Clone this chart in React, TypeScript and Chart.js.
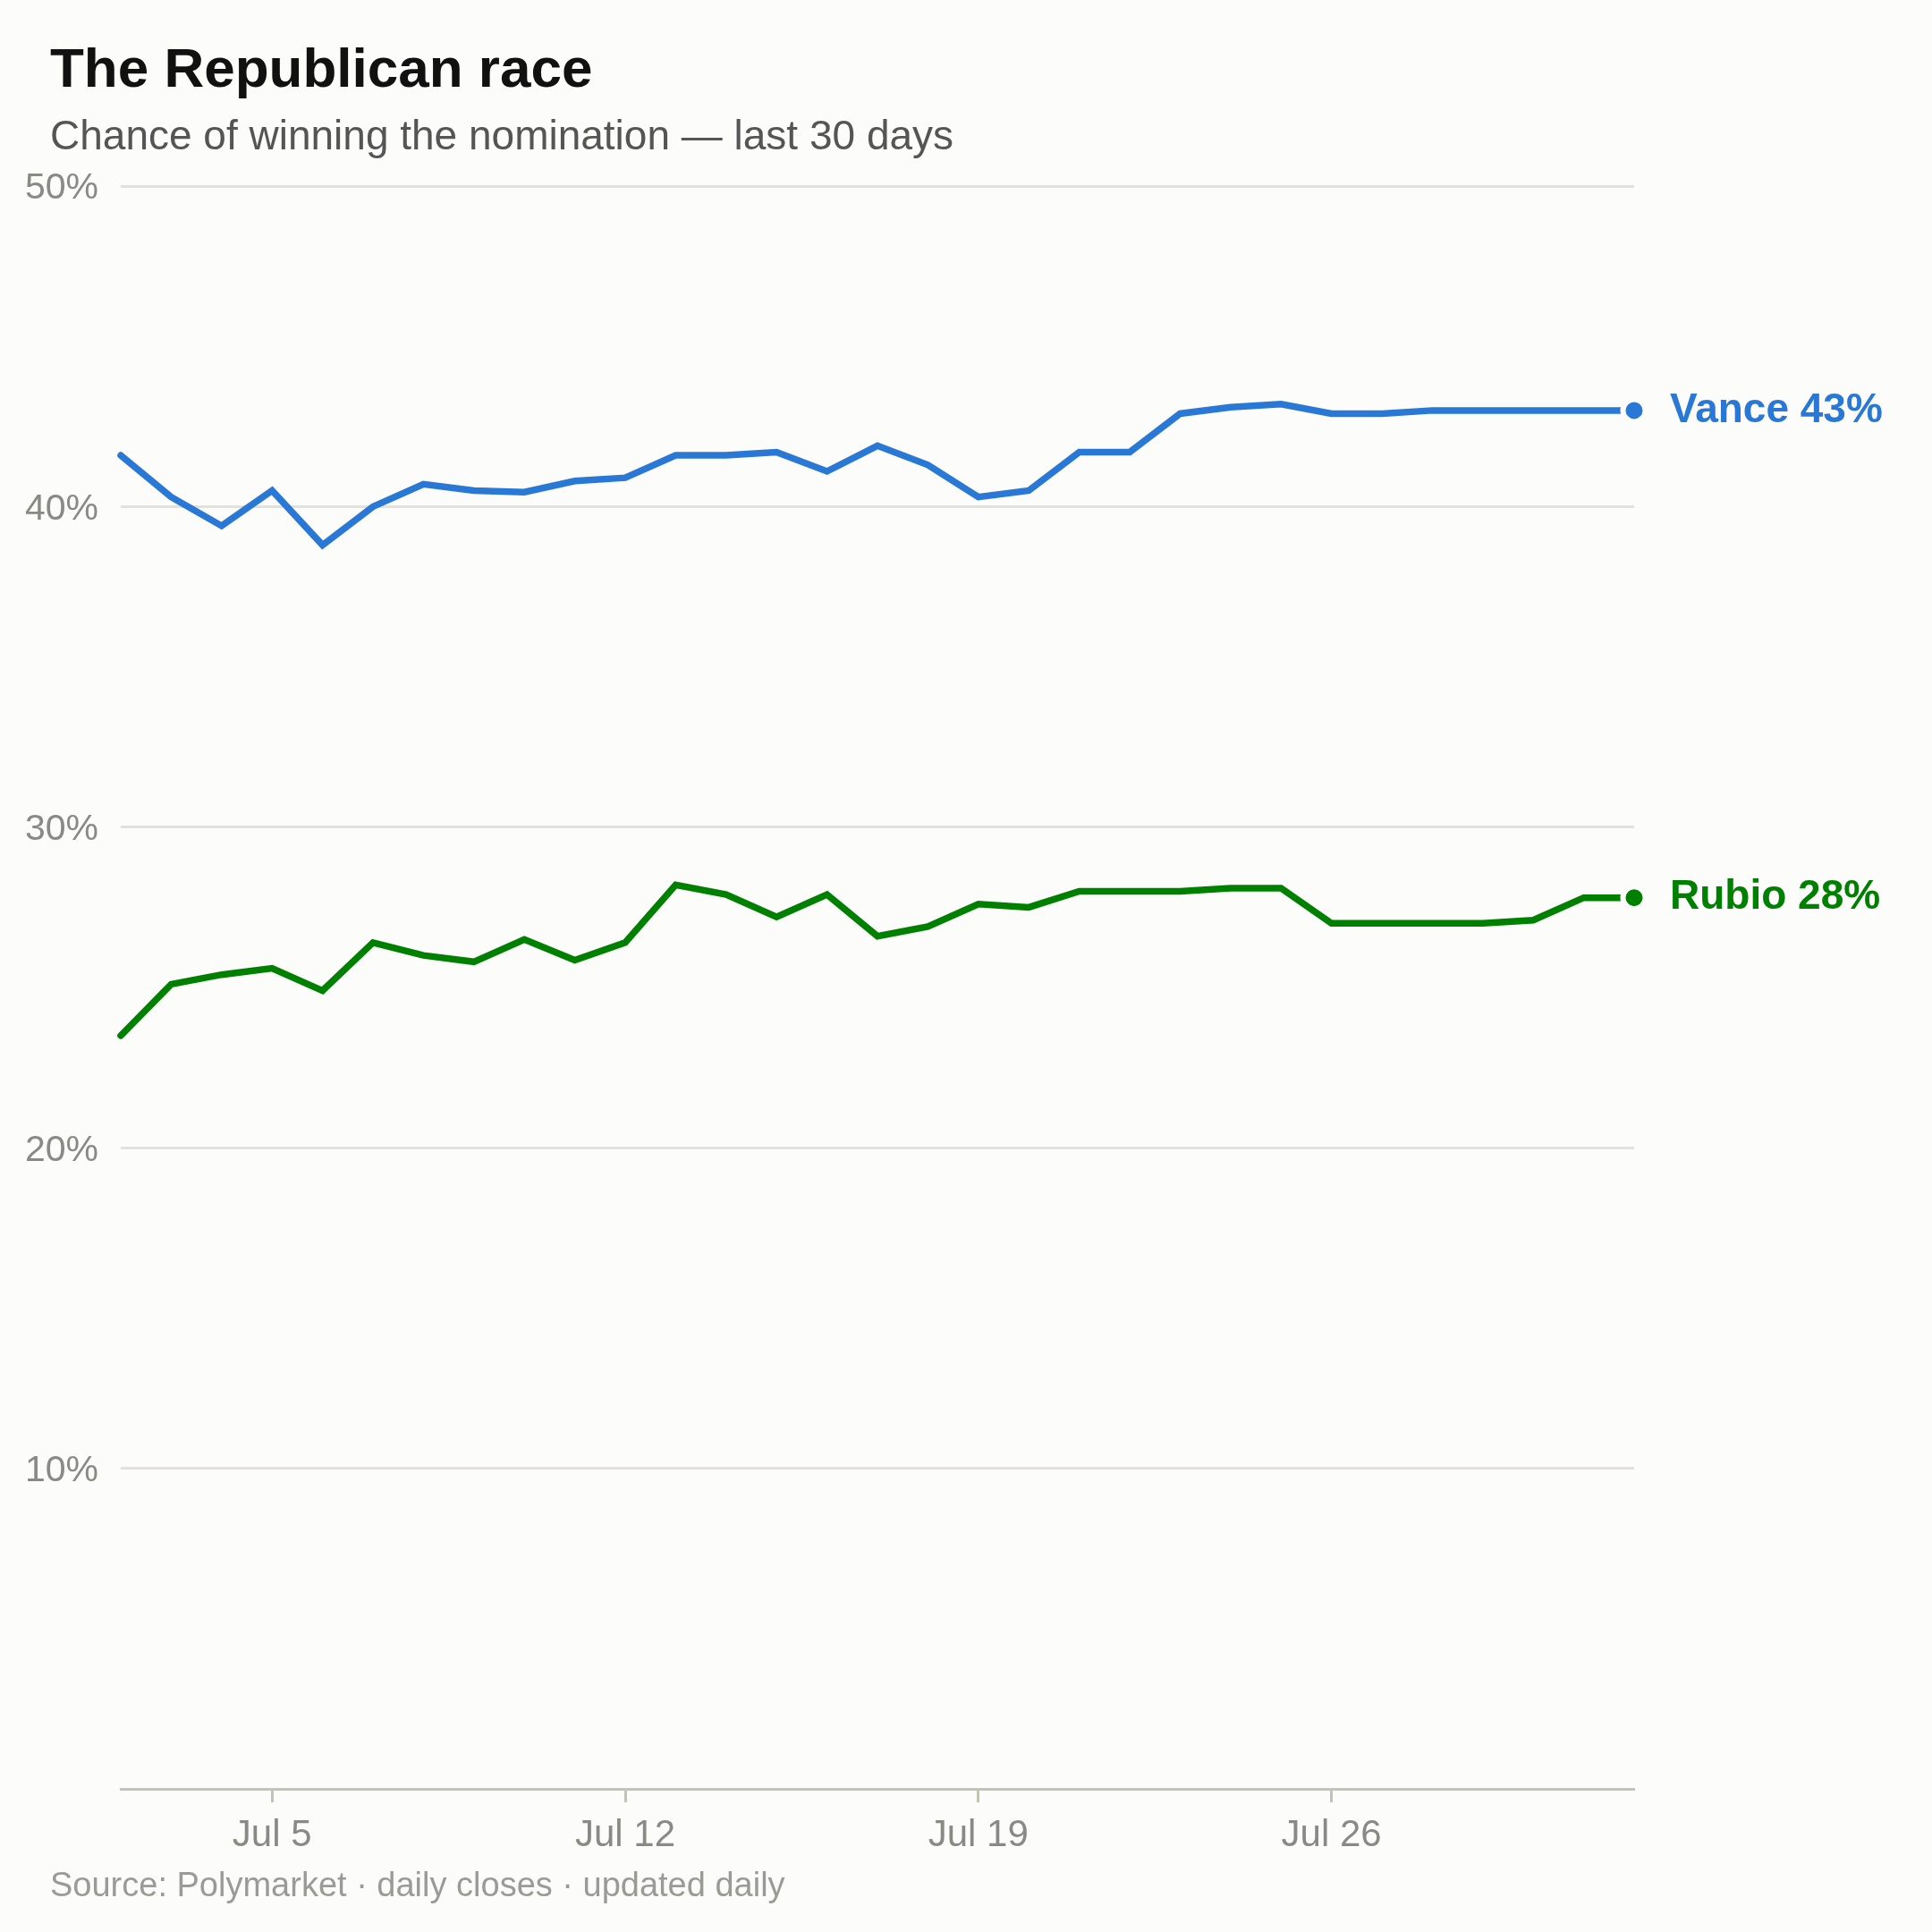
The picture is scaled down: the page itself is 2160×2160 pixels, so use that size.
import { Chart, registerables } from "chart.js";
import { useEffect, useRef } from "react";
Chart.register(...registerables);

const DATES = [
  "Jul 2", "Jul 3", "Jul 4", "Jul 5", "Jul 6", "Jul 7", "Jul 8", "Jul 9", "Jul 10", "Jul 11",
  "Jul 12", "Jul 13", "Jul 14", "Jul 15", "Jul 16", "Jul 17", "Jul 18", "Jul 19", "Jul 20", "Jul 21",
  "Jul 22", "Jul 23", "Jul 24", "Jul 25", "Jul 26", "Jul 27", "Jul 28", "Jul 29", "Jul 30", "Jul 31",
  "Aug 1",
];
const VANCE = [
  41.6, 40.3, 39.4, 40.5, 38.8, 40.0, 40.7, 40.5, 40.45, 40.8,
  40.9, 41.6, 41.6, 41.7, 41.1, 41.9, 41.3, 40.3, 40.5, 41.7,
  41.7, 42.9, 43.1, 43.2, 42.9, 42.9, 43.0, 43.0, 43.0, 43.0,
  43.0,
];
const RUBIO = [
  23.5, 25.1, 25.4, 25.6, 24.9, 26.4, 26.0, 25.8, 26.5, 25.85,
  26.4, 28.2, 27.9, 27.2, 27.9, 26.6, 26.9, 27.6, 27.5, 28.0,
  28.0, 28.0, 28.1, 28.1, 27.0, 27.0, 27.0, 27.0, 27.1, 27.8,
  27.8,
];
const SERIES_NAMES = ["Vance", "Rubio"];
const SERIES_COLORS = ["#2a78d6", "#008000"];
const X_TICK_LABELS = ["Jul 5", "Jul 12", "Jul 19", "Jul 26"];

const BG = "#fcfcfa";
const FONT = "'Liberation Sans', Arial, Helvetica, sans-serif";
const GRID = "#e2e1dc";
const AXIS = "#c4c3b8";
const TICK_TEXT = "#8a8a85";

const textPlugin = {
  id: "textPlugin",
  beforeDraw(chart: Chart) {
    const ctx = chart.ctx;
    ctx.save();
    ctx.fillStyle = BG;
    ctx.fillRect(0, 0, chart.width, chart.height);
    ctx.restore();
  },
  afterDraw(chart: Chart) {
    const ctx = chart.ctx;
    ctx.save();
    ctx.textAlign = "left";
    ctx.textBaseline = "alphabetic";
    ctx.fillStyle = "#111111";
    ctx.font = `bold 62px ${FONT}`;
    ctx.fillText("The Republican race", 56, 97);
    ctx.fillStyle = "#555555";
    ctx.font = `46px ${FONT}`;
    ctx.fillText("Chance of winning the nomination \u2014 last 30 days", 56, 167);
    ctx.fillStyle = "#9b9b96";
    ctx.font = `38px ${FONT}`;
    ctx.fillText("Source: Polymarket \u00b7 daily closes \u00b7 updated daily", 56, 2120);

    // end labels
    ctx.textBaseline = "middle";
    ctx.font = `bold 46px ${FONT}`;
    chart.data.datasets.forEach((ds, i) => {
      const meta = chart.getDatasetMeta(i);
      const last = meta.data[meta.data.length - 1];
      const vals = ds.data as number[];
      ctx.fillStyle = SERIES_COLORS[i];
      ctx.fillText(
        `${SERIES_NAMES[i]} ${Math.round(vals[vals.length - 1])}%`,
        last.x + 40,
        last.y
      );
    });
    ctx.restore();
  },
};

function App() {
  const chartRef = useRef<HTMLCanvasElement | null>(null);
  const chartInstance = useRef<Chart | null>(null);

  useEffect(() => {
    document.body.style.margin = "0";
    document.body.style.background = BG;
    const ctx = chartRef.current?.getContext("2d");
    if (chartInstance.current) {
      chartInstance.current.destroy();
    }
    if (ctx) {
      const makeDataset = (i: number, values: number[]) => ({
        label: SERIES_NAMES[i],
        data: values,
        borderColor: SERIES_COLORS[i],
        backgroundColor: SERIES_COLORS[i],
        borderWidth: 7.5,
        borderCapStyle: "round" as const,
        tension: 0,
        clip: false as const,
        pointRadius: (c: any) => (c.dataIndex === values.length - 1 ? 12.5 : 0),
        pointBorderWidth: 6,
        pointBorderColor: BG,
        pointBackgroundColor: SERIES_COLORS[i],
        pointHoverRadius: 0,
      });

      chartInstance.current = new Chart(ctx, {
        type: "line",
        data: {
          labels: DATES,
          datasets: [makeDataset(0, VANCE), makeDataset(1, RUBIO)],
        },
        options: {
          responsive: false,
          animation: false,
          events: [],
          layout: {
            padding: { top: 208, right: 333, left: 0, bottom: 0 },
          },
          plugins: {
            legend: { display: false },
            tooltip: { enabled: false },
            title: { display: false },
          },
          scales: {
            x: {
              type: "category",
              offset: false,
              afterFit: (s: any) => {
                s.height = 160;
              },
              border: { display: true, color: AXIS, width: 3 },
              grid: {
                drawOnChartArea: false,
                drawTicks: true,
                tickLength: 15,
                tickWidth: 3,
                tickColor: (c: any) =>
                  X_TICK_LABELS.includes(DATES[c.index]) ? AXIS : "rgba(0,0,0,0)",
              },
              ticks: {
                autoSkip: false,
                maxRotation: 0,
                padding: 12,
                color: TICK_TEXT,
                font: { family: FONT, size: 42 },
                callback: (_v: any, i: number) =>
                  X_TICK_LABELS.includes(DATES[i]) ? DATES[i] : "",
              },
            },
            y: {
              min: 0,
              max: 50,
              afterFit: (s: any) => {
                s.width = 135;
              },
              border: { display: false },
              grid: {
                drawTicks: false,
                lineWidth: 3,
                color: (c: any) => (c.tick && c.tick.value === 0 ? "rgba(0,0,0,0)" : GRID),
              },
              ticks: {
                stepSize: 10,
                padding: 25,
                labelOffset: 3,
                color: TICK_TEXT,
                font: { family: FONT, size: 41 },
                callback: (v: any) => (Number(v) === 0 ? "" : `${v}%`),
              },
            },
          },
        },
        plugins: [textPlugin],
      });
    }
    return () => {
      if (chartInstance.current) {
        chartInstance.current.destroy();
        chartInstance.current = null;
      }
    };
  }, []);

  return (
    <div style={{ position: "fixed", left: 0, top: 0, width: 2160, height: 2160, background: BG }}>
      <canvas ref={chartRef} width={2160} height={2160} style={{ width: 2160, height: 2160 }} />
    </div>
  );
}

export default App;
